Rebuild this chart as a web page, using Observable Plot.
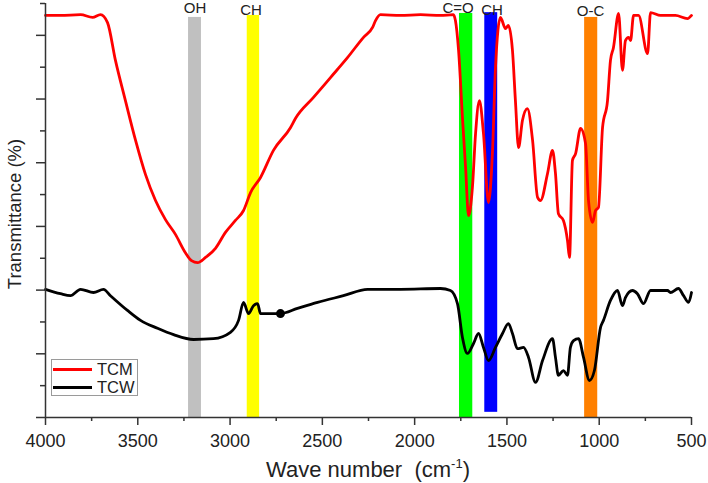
<!DOCTYPE html>
<html><head><meta charset="utf-8">
<script src="https://cdn.jsdelivr.net/npm/d3@7"></script>
<script src="https://cdn.jsdelivr.net/npm/@observablehq/plot@0.6"></script>
<style>
body{margin:0;background:#fff;font-family:"Liberation Sans",Arial,sans-serif;}
#wrap{position:relative;width:708px;height:483px;overflow:hidden;}
#legend{position:absolute;left:51px;top:359px;width:87px;height:37px;border:1px solid #9a9a9a;background:#fff;box-sizing:border-box;}
.li{position:absolute;left:0;height:14px;width:85px;}
.sw{position:absolute;left:1px;top:6px;width:39px;height:3px;}
.lt{position:absolute;left:45px;top:-1px;font-size:16.5px;color:#222;line-height:16px;}
</style></head><body>
<div id="wrap"><div id="legend">
<div class="li" style="top:2px"><div class="sw" style="background:#ff0000"></div><div class="lt">TCM</div></div>
<div class="li" style="top:20px"><div class="sw" style="background:#000"></div><div class="lt">TCW</div></div>
</div></div>
<script>
// TCM (red) spectrum
const tcmWave = [4000,3919,3810,3745,3702,3664,3621,3567,3512,3458,3404,3350,3296,3242,3209,3176,3133,3079,3025,2971,2927,2889,2835,2765,2673,2646,2548,2456,2364,2277,2228,2212,2185,2077,1968,1860,1790,1779,1762,1741,1724,1708,1687,1670,1649,1627,1600,1578,1562,1535,1508,1492,1470,1454,1437,1416,1389,1361,1334,1318,1280,1253,1237,1221,1194,1172,1161,1145,1128,1101,1074,1058,1036,1020,1004,982,955,939,923,895,874,858,841,830,814,787,738,722,668,587,522,500];
const tcmT = [101.0,101.0,101.2,100.5,101.2,99.2,89.7,79.6,69.6,61.0,54.5,49.7,46.0,41.4,39.4,38.9,40.2,42.5,46.5,49.5,52.0,56.5,60.3,67.1,72.8,75.1,80.4,85.4,90.4,95.5,98.0,99.7,101.2,101.0,101.2,101.0,101.2,99.7,92.2,75.4,62.8,50.7,57.8,71.3,79.6,71.3,54.0,67.1,87.9,100.5,97.7,98.5,92.2,79.6,67.8,74.6,77.6,69.6,55.3,54.5,61.3,67.1,61.3,51.2,49.5,44.5,40.2,64.6,66.3,72.6,68.8,54.5,49.0,52.0,52.8,72.8,79.6,89.7,92.9,101.5,87.2,94.7,95.5,94.7,101.0,101.0,91.4,101.7,101.0,101.0,100.2,101.0];
// TCW (black) spectrum
const tcwWave = [4000,3919,3865,3810,3740,3686,3648,3556,3485,3393,3306,3198,3090,2998,2954,2927,2900,2873,2851,2835,2727,2635,2526,2386,2255,2077,1860,1806,1768,1741,1714,1681,1654,1627,1600,1562,1524,1492,1470,1443,1410,1383,1345,1307,1253,1237,1221,1194,1172,1156,1139,1112,1085,1053,1026,993,977,939,901,874,858,820,793,760,722,630,614,571,543,516,500];
const tcwT = [32.2,31.1,30.6,32.2,31.4,32.2,30.6,26.9,24.4,22.4,20.8,19.6,19.8,21.4,24.4,28.9,26.1,28.1,28.6,26.1,26.1,27.4,28.9,30.6,32.2,32.2,32.4,31.9,28.6,20.1,16.1,18.6,21.1,17.6,14.3,17.6,21.1,23.6,21.1,17.3,17.6,15.1,8.8,14.3,19.8,15.1,10.6,11.8,10.6,17.6,19.3,19.8,15.1,9.3,11.8,22.6,24.4,29.4,31.9,28.1,30.1,31.9,31.1,28.6,31.9,31.9,31.4,32.4,30.6,28.9,31.4];
// marker on TCW
const markWave = [2727];
const markT = [26.1];
// assignment bands
const bandLabels = ["OH","CH","C=O","CH","O-C"];
const bandLo = [3155,2840,1685,1550,1008];
const bandHi = [3225,2907,1757,1620,1079];
const bandTop = [100.5,101.0,101.5,101.7,100.5];
const bandBottom = [0,0,0,1.3,0];
const bandColors = ["#c0c0c0","#ffff00","#00ff00","#0000ff","#ff8000"];
const labelWave = [3190,2886,1765,1581,1047];
const labelT = [102.9,102.4,102.9,102.2,102.1];
// axis ticks
const xMajor = [4000,3500,3000,2500,2000,1500,1000,500];
const xMinor = [3750,3250,2750,2250,1750,1250,750];
const yMajor = [0,16,32,48,64,80,96];
const yMinor = [8,24,40,56,72,88,104];

const tcm = tcmWave.map((w,i)=>({w, t: tcmT[i]}));
const tcw = tcwWave.map((w,i)=>({w, t: tcwT[i]}));
const marks = markWave.map((w,i)=>({w, t: markT[i]}));
const bands = bandLabels.map((l,i)=>({l, lo: bandLo[i], hi: bandHi[i], top: bandTop[i], bot: bandBottom[i], c: bandColors[i], lw: labelWave[i], lt: labelT[i]}));

const axisColor = "#333";
const chart = Plot.plot({
  width: 708, height: 483,
  marginLeft: 45, marginRight: 17, marginTop: 3, marginBottom: 66,
  style: {fontFamily: "Liberation Sans, Arial, sans-serif", background: "#fff", color: "#222"},
  x: {domain: [4000, 500], label: null},
  y: {domain: [0, 104], label: null},
  marks: [
    Plot.rect(bands, {x1: "lo", x2: "hi", y1: "bot", y2: "top", fill: "c"}),
    Plot.line(tcw, {x: "w", y: "t", stroke: "#000", strokeWidth: 2.8, curve: "monotone-x"}),
    Plot.line(tcm, {x: "w", y: "t", stroke: "#ff0000", strokeWidth: 2.8, curve: "monotone-x"}),
    Plot.dot(marks, {x: "w", y: "t", r: 4.5, fill: "#000"}),
    Plot.text(bands, {x: "lw", y: "lt", text: "l", fontSize: 15, fill: "#222", lineAnchor: "middle"}),
    Plot.axisX({ticks: xMajor, tickSize: 8, tickPadding: 9, fontSize: 18, stroke: axisColor, strokeWidth: 1.5, tickFormat: d => String(d), label: null}),
    Plot.axisX({ticks: xMinor, tickSize: 4, stroke: axisColor, strokeWidth: 1.5, tickFormat: () => "", label: null}),
    Plot.axisY({ticks: yMajor, tickSize: 9, stroke: axisColor, strokeWidth: 1.5, tickFormat: () => "", label: null}),
    Plot.axisY({ticks: yMinor, tickSize: 5, stroke: axisColor, strokeWidth: 1.5, tickFormat: () => "", label: null}),
    Plot.ruleY([0], {stroke: axisColor, strokeWidth: 1.5}),
    Plot.ruleX([4000], {stroke: axisColor, strokeWidth: 1.5})
  ]
});
const wrap = document.getElementById("wrap");
wrap.insertBefore(chart, wrap.firstChild);

const svg = d3.select(chart);
const xt = svg.append("text")
  .attr("x", 368).attr("y", 477)
  .attr("text-anchor", "middle")
  .attr("font-size", 22).attr("fill", "#222");
xt.append("tspan").text("Wave number\u00a0\u00a0(cm");
xt.append("tspan").attr("font-size", 13).attr("dy", -9).text("-1");
xt.append("tspan").attr("dy", 9).text(")");
svg.append("text")
  .attr("transform", "translate(21,214) rotate(-90)")
  .attr("text-anchor", "middle")
  .attr("font-size", 18.5).attr("fill", "#222")
  .text("Transmittance (%)");
</script></body></html>
